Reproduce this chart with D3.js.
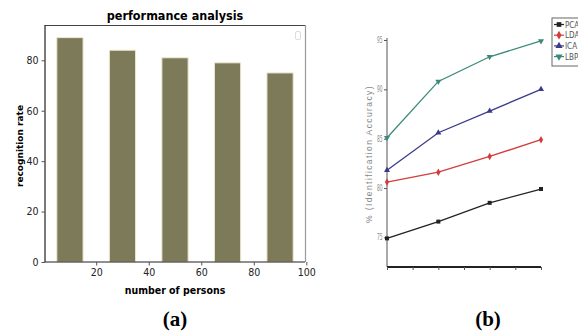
<!DOCTYPE html>
<html>
<head>
<meta charset="utf-8">
<script src="https://cdn.jsdelivr.net/npm/d3@7"></script>
<style>
  html, body { margin: 0; padding: 0; background: #fff; }
  svg { display: block; }
</style>
</head>
<body>
<div id="chart"></div>
<script>
// ---- Data: panel (a)
const persons = [10, 30, 50, 70, 90];
const recognition = [89, 84, 81, 79, 75];
const xTicksA = [20, 40, 60, 80, 100];
const yTicksA = [0, 20, 40, 60, 80];

// ---- Data: panel (b)
const steps = [1, 2, 3, 4];
const methods = ['PCA', 'LDA', 'ICA', 'LBP'];
const pca = [74.9, 76.6, 78.5, 79.9];
const lda = [80.6, 81.6, 83.2, 84.9];
const ica = [81.8, 85.6, 87.8, 90.0];
const lbp = [85.1, 90.8, 93.3, 94.9];
const yTicksB = [75, 80, 85, 90, 95];

const W = 578, H = 334;
const svg = d3.select('#chart').append('svg').attr('width', W).attr('height', H);

const narrow = '"DejaVu Sans Condensed", "Liberation Sans Narrow", sans-serif';

// ================= Panel (a): bar chart =================
const xA = d3.scaleLinear().domain([0.5, 99.5]).range([45, 305]);
const yA = d3.scaleLinear().domain([0, 94]).range([262, 25]);
const barW = xA(10) - xA(0);

const gA = svg.append('g');

gA.selectAll('.bar').data(persons).join('rect')
  .attr('class', 'bar')
  .attr('x', d => xA(d) - barW / 2)
  .attr('y', (d, i) => yA(recognition[i]))
  .attr('width', barW)
  .attr('height', (d, i) => yA(0) - yA(recognition[i]))
  .attr('fill', '#7d7a5a')
  .attr('stroke', '#efe9d2')
  .attr('stroke-width', 1);

// frame
gA.append('line').attr('x1', xA.range()[0]).attr('x2', xA.range()[1])
  .attr('y1', 25.5).attr('y2', 25.5).attr('stroke', '#444').attr('stroke-width', 1);
gA.append('line').attr('x1', 305.5).attr('x2', 305.5)
  .attr('y1', 25).attr('y2', 262).attr('stroke', '#999').attr('stroke-width', 1.2);

const axA_x = gA.append('g').attr('transform', 'translate(0,262)')
  .call(d3.axisBottom(xA).tickValues(xTicksA).tickSize(3.5).tickSizeOuter(0).tickFormat(d3.format('d')));
const axA_y = gA.append('g').attr('transform', 'translate(45,0)')
  .call(d3.axisLeft(yA).tickValues(yTicksA).tickSize(3.5).tickSizeOuter(0));
[axA_x, axA_y].forEach(a => {
  a.select('.domain').attr('stroke', '#222').attr('stroke-width', 1.2);
  a.selectAll('.tick line').attr('stroke', '#555');
  a.selectAll('.tick text').attr('font-family', narrow).attr('font-size', 10.5).attr('fill', '#222');
});
axA_x.select('.domain').attr('d', `M${xA.range()[0]},0H${xA.range()[1]}`);
axA_y.select('.domain').attr('d', `M0,${yA.range()[0]}V${yA.range()[1]}`);

// empty legend box
gA.append('rect').attr('x', 295.5).attr('y', 31.5).attr('width', 5).attr('height', 8)
  .attr('rx', 1.5).attr('fill', 'none').attr('stroke', '#ddd');

gA.append('text').attr('x', 175).attr('y', 20).attr('text-anchor', 'middle')
  .attr('font-family', narrow).attr('font-weight', 'bold').attr('font-size', 12.5)
  .text('performance analysis');
gA.append('text').attr('x', 175).attr('y', 294).attr('text-anchor', 'middle')
  .attr('font-family', narrow).attr('font-weight', 'bold').attr('font-size', 10.5)
  .text('number of persons');
gA.append('text').attr('transform', 'translate(23,146) rotate(-90)').attr('text-anchor', 'middle')
  .attr('font-family', '"DejaVu Sans", sans-serif').attr('font-weight', 'bold').attr('font-size', 9)
  .text('recognition rate');
gA.append('text').attr('x', 175).attr('y', 326).attr('text-anchor', 'middle')
  .attr('font-family', '"Liberation Serif", "DejaVu Serif", serif').attr('font-weight', 'bold').attr('font-size', 21)
  .text('(a)');

// ================= Panel (b): line chart =================
const xB = d3.scaleLinear().domain([1, 4]).range([387, 541]);
const yB = d3.scaleLinear().domain([72, 95.2]).range([267, 38]);

const gB = svg.append('g');

const series = [
  { name: 'PCA', values: pca, color: '#222222', symbol: d3.symbolSquare, rot: 0 },
  { name: 'LDA', values: lda, color: '#d43c3c', symbol: d3.symbolDiamond, rot: 0 },
  { name: 'ICA', values: ica, color: '#3b3b8c', symbol: d3.symbolTriangle, rot: 0 },
  { name: 'LBP', values: lbp, color: '#3a8a7c', symbol: d3.symbolTriangle, rot: 180 }
];

const line = d3.line().x((d, i) => xB(steps[i])).y(d => yB(d));

const axB_y = gB.append('g').attr('transform', 'translate(387,0)')
  .call(d3.axisLeft(yB).tickValues(yTicksB).tickSize(3).tickSizeOuter(0));
axB_y.select('.domain').attr('stroke', '#555').attr('d', `M0,${yB.range()[0]}V${yB.range()[1]}`);
axB_y.selectAll('.tick line').attr('stroke', '#555');
axB_y.selectAll('.tick text').attr('font-family', narrow).attr('font-size', 8)
  .attr('fill', '#888').attr('x', -4.5)
  .attr('textLength', 5.5).attr('lengthAdjust', 'spacingAndGlyphs');

const axB_x = gB.append('g').attr('transform', 'translate(0,267)')
  .call(d3.axisBottom(xB).tickValues([1, 1.5, 2, 2.5, 3, 3.5, 4]).tickSize(3).tickSizeOuter(0).tickFormat(''));
axB_x.select('.domain').attr('stroke', '#222').attr('stroke-width', 1.8)
  .attr('d', `M${xB.range()[0]},0H${xB.range()[1]}`);
axB_x.selectAll('.tick line').attr('stroke', '#555');

series.forEach(s => {
  gB.append('path').datum(s.values).attr('d', line)
    .attr('fill', 'none').attr('stroke', s.color).attr('stroke-width', 1.3);
  gB.selectAll(null).data(s.values).join('path')
    .attr('transform', (d, i) => `translate(${xB(steps[i])},${yB(d)}) rotate(${s.rot})`)
    .attr('d', d3.symbol().type(s.symbol).size(16))
    .attr('fill', s.color);
});

gB.append('text').attr('transform', 'translate(372,154) rotate(-90)').attr('text-anchor', 'middle')
  .attr('font-family', '"Liberation Sans", Arial, sans-serif').attr('font-size', 8.5)
  .attr('letter-spacing', 1.4).attr('fill', '#888')
  .text('% (Identification Accuracy)');

// legend
const lg = gB.append('g');
lg.append('rect').attr('x', 552).attr('y', 18).attr('width', 30).attr('height', 48)
  .attr('fill', '#fff').attr('stroke', '#666').attr('stroke-width', 1);
series.forEach((s, i) => {
  const y = 24.5 + i * 10.7;
  lg.append('line').attr('x1', 554).attr('x2', 564).attr('y1', y).attr('y2', y)
    .attr('stroke', s.color).attr('stroke-width', 1.2);
  lg.append('path').attr('transform', `translate(559,${y}) rotate(${s.rot})`)
    .attr('d', d3.symbol().type(s.symbol).size(22)).attr('fill', s.color);
  lg.append('text').attr('x', 565).attr('y', y + 3).attr('font-family', narrow)
    .attr('font-size', 8).attr('fill', '#555').text(methods[i]);
});

gB.append('text').attr('x', 488).attr('y', 326).attr('text-anchor', 'middle')
  .attr('font-family', '"Liberation Serif", "DejaVu Serif", serif').attr('font-weight', 'bold').attr('font-size', 21)
  .text('(b)');
</script>
</body>
</html>
